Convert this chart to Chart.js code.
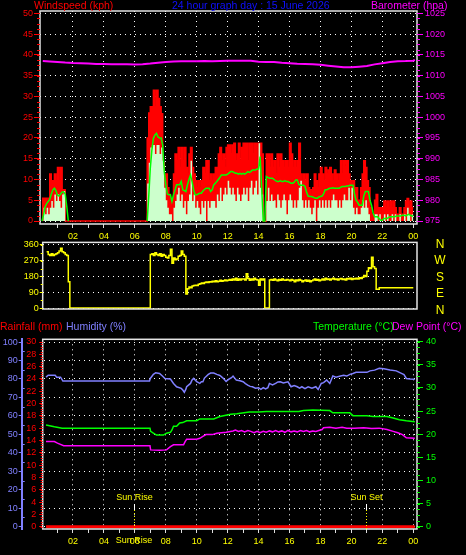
<!DOCTYPE html>
<html><head><meta charset="utf-8">
<script src="https://cdn.jsdelivr.net/npm/chart.js@4.4.1/dist/chart.umd.min.js"></script>
<style>
html,body{margin:0;padding:0;background:#000;width:466px;height:555px;overflow:hidden}
canvas{position:absolute;left:0}
</style></head><body>
<canvas id="c1" width="466" height="245" style="top:0px"></canvas>
<canvas id="c2" width="466" height="80" style="top:236px"></canvas>
<canvas id="c3" width="466" height="237" style="top:318px"></canvas>
<script>
// ---------------- DATA ----------------
const hourTicks = [1,2,3,4,5,6,7,8,9,10,11,12,13,14,15,16,17,18,19,20,21,22,23,24];
const windTicks = [0,5,10,15,20,25,30,35,40,45,50];
const baroTicks = [975,980,985,990,995,1000,1005,1010,1015,1020,1025];
const dirTicks = [0,90,180,270,360];
const dirLetters = ['N','W','S','E','N'];
const humTicks = [0,10,20,30,40,50,60,70,80,90,100];
const rainTicks = [0,2,4,6,8,10,12,14,16,18,20,22,24,26,28,30];
const tempTicks = [0,5,10,15,20,25,30,35,40];

// wind samples: one value every 0.1 h starting 00:00 (one row per hour, last value = 24:00)
const windGust = [
5.5,5.5,5.5,3.2,5.5,11.3,9.7,9.7,11.3,9.7,
12.9,9.7,12.9,7.5,7.5,0,0,0,0,0,
0,0,0,0,0,0,0,0,0,0,
0,0,0,0,0,0,0,0,0,0,
0,0,0,0,0,0,0,0,0,0,
0,0,0,0,0,0,0,0,0,0,
0,0,0,0,0,0,0,0,20,26,
27.5,27.5,31.5,27.5,31.5,29.5,27.5,25.8,14,11.3,
11.3,8,6.4,4.8,3.2,11.3,16.1,14.5,17.7,12.9,
17.7,14.5,17.7,12.9,11.3,16.1,17.7,12.9,11.3,9.7,
8,9.7,8,9.7,12.9,11.3,14.5,14.5,9.7,11.3,
9.7,11.3,12.9,12.9,16.1,17.7,14.5,16.1,12.9,17.7,
18.3,18.3,16.1,18.3,18.7,14.5,16.1,18.7,14.5,17.7,
18.7,18.7,18.7,14.5,18.7,18.7,16.1,18.7,18.7,14.5,
18.7,18.7,16.1,0,0,16.1,16.1,12.9,16.1,12.9,
14.5,11.3,16.1,12.9,16.1,14.5,12.9,14.5,14.5,12.9,
18.7,16.1,12.9,14.5,12.9,14.5,18.7,11.3,9.7,11.3,
9.7,11.3,8,7.5,6.4,8,11.3,9.7,8,11.3,
12.9,11.3,9.7,12.9,11.3,12.3,12.9,11.3,9.7,12.3,
11.3,9.7,11.3,14.5,11.3,14.5,12.9,14.5,11.3,9.7,
8,9.7,6.4,8,5,5,8,11.3,14.5,12.9,
9.7,8,3.2,1.6,1.6,5,6.4,3.2,3.2,1.6,
3.2,4.8,3.2,4.8,3.2,4.8,3.2,4.8,3.2,1.6,
1.6,3.2,1.6,1.6,3.2,4.8,5.4,3.2,4.8,3.2,
3.2];
const windAvg = [
0,3.2,1.6,3.2,1.6,3.2,4.8,3.2,6.4,4.8,
6.4,4.8,3.2,6.4,7.2,0,0,0,0,0,
0,0,0,0,0,0,0,0,0,0,
0,0,0,0,0,0,0,0,0,0,
0,0,0,0,0,0,0,0,0,0,
0,0,0,0,0,0,0,0,0,0,
0,0,0,0,0,0,0,0,9,14,
17.7,18.3,18.3,16.1,18.3,18.3,16.1,17.7,14.5,8,
5,3.2,1.6,1.6,0,3.2,4.8,6.4,8,4.8,
6.4,3.2,4.8,1.6,4.8,6.4,14.5,4.8,6.4,3.2,
4.8,3.2,1.6,4.8,3.2,4.8,0,4.8,3.2,4.8,
4.8,4.8,3.2,6.4,4.8,8,4.8,6.4,8,6.4,
9.7,8,6.4,8,6.4,4.8,8,6.4,4.8,6.4,
8,6.4,8,4.8,8,9.7,6.4,8,9.7,6.4,
18.7,8,6.4,0,0,4.8,8,4.8,6.4,4.8,
5,3.2,6.4,5,3.2,5,6.4,5,1.6,5,
6.4,5,3.2,5,3.2,5,8,9.7,5,3.2,
5,3.2,5,3.2,1.6,3.2,5,0,3.2,5,
3.2,5,3.2,5,3.2,5,3.2,5,6.4,5,
5,3.2,5,3.2,5,6.4,5,5,8,5,
8,3.2,1.6,3.2,1.6,1.6,3.2,5,3.2,5,
3.2,1.6,0,0,0,1.6,1.6,0,1.6,0,
0,1.6,0,1.6,0,0,1.6,0,1.6,0,
0,1.6,0,0,1.6,0,3.2,1.6,0,1.6,
1.6];
const windTrend = [
0,1.5,3.4,4.2,4.7,5.2,6.5,7.5,7.9,7.3,
6.2,6,6.5,7,7,6.5,3.5,0,null,null,
null,null,null,null,null,null,null,null,null,null,
null,null,null,null,null,null,null,null,null,null,
null,null,null,null,null,null,null,null,null,null,
null,null,null,null,null,null,null,null,null,null,
null,null,null,null,null,null,null,null,0,6,
12.7,17,19.9,20.7,21.1,20.2,20,20,18.3,12,
8.7,6.5,6.3,6.3,4.7,6.3,7.5,8.7,8.7,8.7,
9.5,7.5,7.3,7.1,8.7,10,11.1,9.5,7.5,6.3,
6.3,6.5,6.7,6.7,7.2,7.6,7.9,7.9,7.9,7.1,
7.5,8.7,9.1,9.5,10,10.5,11.1,11.1,11.1,11.1,
11.3,11.6,11.9,11.9,11.7,11.5,11.5,11.3,11.5,11.3,
11.5,11.3,11.5,11.9,11.7,11.9,12.3,12.3,12.3,12.5,
12.5,15.5,8,0,0,10.7,10.5,10.3,10.3,10.3,
10,9.7,9.5,9.5,9.7,9.5,9.5,9.7,9.5,9.5,
9.3,9.1,9.1,9.3,9.9,9.9,8.8,8.6,8.6,8.6,
8.3,7,6,5.9,5.9,5.8,5.6,5.5,5.5,5.8,
5.9,6,6.5,7.5,7.5,7.7,7.9,7.9,8,7.9,
7.9,7.9,7.9,8.1,8.3,8.3,8.3,8.4,8.4,8.6,
8.6,8.6,6.5,5,4.5,3.8,3.8,3.8,6,7.1,
7.1,7.1,5,3.8,2,1,1,1,0.5,0.2,
0.2,0.6,0.6,0.6,0.8,1,1,1,1,1.2,
1.2,1.2,1.2,1.4,1.4,1.2,1.4,1.6,1.4,1.2,
1.2];
const windDir = [
null,null,null,320,305,300,310,300,305,310,
315,325,340,320,315,305,300,150,0,0,
0,0,0,0,0,0,0,0,0,0,
0,0,0,0,0,0,0,0,0,0,
0,0,0,0,0,0,0,0,0,0,
0,0,0,0,0,0,0,0,0,0,
0,0,0,0,0,0,0,0,0,0,
305,310,300,315,305,300,310,295,305,300,
290,285,300,335,255,285,275,280,295,300,
325,305,295,80,110,120,115,125,128,130,
128,135,138,142,140,145,148,145,150,148,
152,150,155,150,153,158,152,155,160,155,
158,162,158,165,160,170,158,165,160,165,
165,160,195,168,158,165,160,170,162,160,
130,165,160,165,0,0,0,160,162,158,
165,160,155,162,158,165,160,158,163,160,
155,162,158,150,160,155,162,158,150,155,
160,152,158,150,155,160,165,158,162,155,
160,165,160,170,162,165,160,165,170,162,
165,160,165,168,162,165,160,168,165,170,
162,168,165,170,165,172,168,175,185,180,
210,230,225,290,235,225,107,107,116,116,
116,116,116,116,116,116,116,116,116,116,
116,116,116,116,116,116,116,116,116,116,
116];
// [hour, value] readings
const barometer = [[0.05,1013.5],[0.5,1013.4],[1,1013.3],[1.5,1013.15],[2,1013.05],[2.5,1013],[3,1012.9],[3.5,1012.8],[4,1012.8],[4.5,1012.75],[5,1012.75],[5.5,1012.75],[6,1012.65],[6.5,1012.75],[7,1012.9],[7.5,1013.1],[8,1013.3],[8.5,1013.4],[9,1013.45],[10,1013.45],[10.5,1013.5],[11,1013.45],[11.5,1013.5],[12,1013.55],[12.5,1013.6],[13,1013.6],[13.5,1013.55],[14,1013.35],[14.5,1013.3],[15,1013.25],[15.5,1013.1],[16,1013],[16.5,1012.85],[17,1012.8],[17.5,1012.75],[18,1012.6],[18.5,1012.4],[19,1012.2],[19.5,1012],[20,1012],[20.5,1012.15],[21,1012.3],[21.5,1012.7],[22,1013],[22.5,1013.25],[23,1013.45],[23.5,1013.5],[24,1013.6],[24.1,1013.8]];
const humidity = [[0.26,81],[0.4,82],[0.85,82],[0.95,81],[1.2,81],[1.35,78.9],[6.95,78.9],[7.0,80.3],[7.2,82.5],[7.35,83.4],[7.6,83],[7.8,81.5],[7.95,80.3],[8.3,80],[8.5,77.6],[8.7,75.8],[9.0,74.9],[9.1,74],[9.2,72.8],[9.3,74.5],[9.35,75.8],[9.6,77.6],[9.7,79.5],[9.8,80.3],[9.9,79.4],[10.0,78.5],[10.2,77.6],[10.3,78.5],[10.4,78.5],[10.5,80.5],[10.75,82.5],[10.9,83.2],[11.1,83.2],[11.3,82.5],[11.5,81.9],[11.7,80.5],[11.9,78.7],[12.1,80],[12.25,80.7],[12.35,81.6],[12.56,79.4],[12.8,79],[13.0,78.5],[13.15,77.5],[13.3,76.7],[13.45,76],[13.6,75.8],[13.8,75],[14.0,75.3],[14.15,74.4],[14.3,75.3],[14.45,74.6],[14.6,75.3],[14.7,77.6],[14.9,76.8],[15.1,77.6],[15.25,78.4],[15.4,78.5],[15.6,77.8],[15.9,78.5],[16.1,75.8],[16.3,76.5],[16.5,75.8],[16.65,75],[16.8,75.8],[17.0,74.8],[17.2,75.8],[17.45,75],[17.7,75.8],[17.85,74.3],[18.05,77.6],[18.2,78],[18.4,79.4],[18.6,77.6],[18.8,81.6],[19.0,81],[19.3,81.6],[19.5,82],[19.7,81.6],[19.9,82.5],[20.1,83],[20.3,83.6],[20.6,83.6],[21.0,83.6],[21.2,84.4],[21.5,84.8],[21.8,85.8],[22.1,85.5],[22.5,84.9],[22.9,84.4],[23.2,83.2],[23.4,82.4],[23.55,80.3],[23.8,80],[24.1,79.9]];
const temperature = [[0.26,22.0],[0.8,21.6],[1.3,21.3],[6.98,21.3],[7.02,20.6],[7.2,20.2],[7.4,19.8],[7.85,19.8],[8.05,20.2],[8.3,20.4],[8.4,20.9],[8.5,21.7],[8.7,21.7],[8.9,22.4],[9.1,22.5],[9.35,22.9],[10.0,22.9],[10.2,23.3],[11.1,23.3],[11.5,23.8],[12.2,24.3],[12.6,24.4],[13.4,24.8],[14.0,24.8],[14.5,24.9],[15.5,24.9],[16.6,24.9],[16.9,25.1],[17.5,25.2],[18.6,25.1],[18.8,24.6],[19.9,24.6],[20.1,24.0],[21.0,24.0],[21.4,23.8],[22.3,23.8],[22.7,23.5],[23.1,23.1],[23.55,22.9],[24.1,22.7]];
const dewPoint = [[0.26,18.4],[0.8,18.4],[1.0,18.05],[1.4,17.5],[6.98,17.5],[7.02,16.6],[7.6,16.5],[8.05,16.6],[8.3,17.3],[8.5,17.7],[9.15,17.7],[9.25,18.4],[9.35,18.9],[10.0,18.9],[10.2,19.1],[10.4,19.5],[10.6,19.9],[11.0,19.9],[11.3,20.2],[11.9,20.4],[12.35,20.7],[12.5,20.9],[12.7,20.6],[12.9,20.8],[13.1,20.5],[13.3,20.8],[13.5,20.6],[13.7,20.3],[13.9,20.6],[14.1,20.3],[14.3,20.6],[14.5,20.4],[14.7,20.7],[14.9,20.5],[15.1,20.8],[15.3,20.5],[15.5,20.7],[15.7,20.4],[15.9,20.8],[16.1,20.5],[16.3,20.7],[16.5,20.5],[16.7,20.8],[16.9,20.6],[17.1,20.8],[17.3,20.5],[17.5,20.7],[17.7,20.6],[17.9,20.8],[18.1,21.0],[18.2,21.4],[18.6,21.5],[19.0,21.3],[19.4,21.5],[19.7,21.3],[20.2,21.3],[20.8,21.4],[21.3,21.2],[21.8,21.3],[22.3,21.0],[22.7,20.6],[23.0,20.3],[23.3,19.9],[23.55,19.2],[24.1,19.1]];
const rainfall = [[0.26,0],[24.1,0]];
const sunRise = 5.95, sunSet = 20.95;

// ---------------- HELPERS ----------------
const FONT = "'Liberation Sans', Arial, sans-serif";
const RED='#ff0000', MAG='#ff00ff', YEL='#ffff00', GRN='#00ff00', HUM='#8080ff', PALE='#ccffcc', FRAME='#e4e4e4';
const seriesFromRows = arr => arr.map((v,i) => ({x: i/10, y: v}));
const seriesFromPairs = arr => arr.map(p => ({x: p[0], y: p[1]}));
const setTicks = vals => s => { s.ticks = vals.map(v => ({value: v})); };
const fixW = w => s => { s.width = w; };
const fixH = h => s => { s.height = h; };
const hourLabel = v => (v % 2 === 0) ? String(v % 24).padStart(2,'0') : '';
const tickFont = {family: FONT, size: 9};

function xAxis(min, max, h, showLabels, grid) {
  return {
    type:'linear', min, max, display: true,
    afterBuildTicks: setTicks(hourTicks), afterFit: fixH(h),
    grid: { display: true, drawOnChartArea: grid, color: c => (c.tick && c.tick.value % 2 === 0) ? '#ffffff' : 'rgba(0,0,0,0)',
            tickColor: '#dddddd', tickLength: 4, lineWidth: 1 },
    border: { display: false, dash: [1,4] },
    ticks: { color: YEL, font: tickFont, padding: 3, maxRotation: 0, autoSkip: false,
             callback: v => showLabels ? hourLabel(v) : '' }
  };
}
const framePlugin = { id:'frame', afterDatasetsDraw(chart){ const {ctx, chartArea:a} = chart; ctx.save(); ctx.strokeStyle = FRAME; ctx.lineWidth = 1.5; ctx.strokeRect(a.left, a.top, a.right-a.left, a.bottom-a.top); ctx.restore(); } };
function minorPlugin(specs){ return { id:'minor', afterDraw(chart){ const ctx = chart.ctx; ctx.save(); ctx.lineWidth = 1;
  specs.forEach(s => { const sc = chart.scales[s.scale]; ctx.strokeStyle = s.color;
    for (let v = s.from; v <= s.to + 1e-6; v += s.step) { const y = Math.round(sc.getPixelForValue(v)) + 0.5;
      ctx.beginPath(); ctx.moveTo(s.x, y); ctx.lineTo(s.x + s.len, y); ctx.stroke(); } });
  ctx.restore(); } }; }
function textPlugin(items, hook){ return { id:'texts', [hook || 'afterDraw'](chart){ const ctx = chart.ctx; ctx.save(); ctx.textBaseline = 'middle';
  items.forEach(t => { ctx.font = t.font; ctx.fillStyle = t.color; ctx.textAlign = t.align || 'left'; ctx.fillText(t.text, t.x, t.y); });
  ctx.restore(); } }; }
const baseOpts = { responsive:false, animation:false, devicePixelRatio:1, events:[],
  plugins:{ legend:{display:false}, tooltip:{enabled:false} } };
const TITLE = "10.5px " + FONT;

// ---------------- PANEL 1 : wind + barometer ----------------
new Chart(document.getElementById('c1'), {
  type:'line',
  data:{ datasets:[
    { data: seriesFromRows(windTrend), borderColor: GRN, borderWidth: 1.5, pointRadius: 0, fill: false, yAxisID:'y' },
    { data: seriesFromRows(windAvg), borderColor: PALE, backgroundColor: PALE, borderWidth: 0, pointRadius: 0, stepped:'before', fill:'origin', yAxisID:'y' },
    { data: seriesFromRows(windGust), borderColor: RED, backgroundColor: RED, borderWidth: 1.5, pointRadius: 0, stepped:'before', fill:'origin', yAxisID:'y' },
    { data: seriesFromPairs(barometer), borderColor: MAG, borderWidth: 2, pointRadius: 0, fill: false, yAxisID:'y2' }
  ]},
  options: Object.assign({}, baseOpts, {
    layout:{ padding:{ top: 11, left: 0, right: 0, bottom: 0 } },
    scales:{
      x: xAxis(-0.13, 24.24, 21, true, true),
      y: { position:'left', min:-0.72, max:50.55, afterBuildTicks: setTicks(windTicks), afterFit: fixW(40),
           grid:{ color:'#ffffff', tickColor: RED, tickLength: 6, lineWidth: 1 }, border:{ display:false, dash:[1,4] },
           ticks:{ color: RED, font: tickFont, padding: 1, autoSkip:false, callback: v => String(v) } },
      y2: { position:'right', min:974.28, max:1025.55, afterBuildTicks: setTicks(baroTicks), afterFit: fixW(49),
           grid:{ drawOnChartArea:false, tickColor: MAG, tickLength: 6 }, border:{ display:false },
           ticks:{ color: MAG, font: tickFont, padding: 2, autoSkip:false, callback: v => String(v) } }
    }
  }),
  plugins:[ framePlugin,
    minorPlugin([{scale:'y', from:0, to:50, step:1.25, x:40, len:-3, color:RED},{scale:'y2', from:975, to:1025, step:1.25, x:417, len:3, color:MAG}]),
    textPlugin([
      {text:'Windspeed (kph)', x:34, y:6, color:RED, font:TITLE},
      {text:'24 hour graph day : 15 June 2026', x:172, y:6, color:'#1010ff', font:TITLE},
      {text:'Barometer (hpa)', x:371, y:6, color:MAG, font:TITLE}
    ]) ]
});

// ---------------- PANEL 2 : wind direction ----------------
new Chart(document.getElementById('c2'), {
  type:'line',
  data:{ datasets:[
    { data: seriesFromRows(windDir), borderColor: YEL, borderWidth: 1.5, pointRadius: 0, stepped:'before', fill:false }
  ]},
  options: Object.assign({}, baseOpts, {
    layout:{ padding:{ top: 5.5, left: 0, right: 49, bottom: 7 } },
    scales:{
      x: { type:'linear', min:0.045, max:24.24, display:false },
      y: { position:'left', min:-5.6, max:374, afterBuildTicks: setTicks(dirTicks), afterFit: fixW(42.7),
           grid:{ color:'#ffffff', tickColor: YEL, tickLength: 3, lineWidth: 1 }, border:{ display:false, dash:[1,4] },
           ticks:{ color: YEL, font: tickFont, padding: 1, autoSkip:false, callback: v => String(v) } }
    }
  }),
  plugins:[ framePlugin,
    minorPlugin([{scale:'y', from:0, to:360, step:45, x:42.7, len:-2, color:YEL}]),
    textPlugin(dirLetters.map((t,i) => ({text:t, x:440, y:8.3 + i*16.5, color:YEL, font:"12px " + FONT, align:'center'}))) ]
});

// ---------------- PANEL 3 : rain / humidity / temperature / dew point ----------------
new Chart(document.getElementById('c3'), {
  type:'line',
  data:{ datasets:[
    { data: seriesFromPairs(rainfall), borderColor: RED, borderWidth: 3, pointRadius: 0, fill:false, yAxisID:'rain' },
    { data: seriesFromPairs(dewPoint), borderColor: MAG, borderWidth: 1.5, pointRadius: 0, fill:false, yAxisID:'temp' },
    { data: seriesFromPairs(temperature), borderColor: GRN, borderWidth: 1.5, pointRadius: 0, fill:false, yAxisID:'temp' },
    { data: seriesFromPairs(humidity), borderColor: HUM, borderWidth: 1.5, pointRadius: 0, fill:false, yAxisID:'hum' }
  ]},
  options: Object.assign({}, baseOpts, {
    layout:{ padding:{ top: 21.3, left: 0, right: 0, bottom: 0 } },
    scales:{
      x: xAxis(0.045, 24.24, 26, true, true),
      hum: { position:'left', weight: 1, min:-1.25, max:101.5, afterBuildTicks: setTicks(humTicks), afterFit: fixW(21.7),
           grid:{ color:'#ffffff', tickColor: HUM, tickLength: 3, lineWidth: 1 }, border:{ display:true, color: HUM, width: 2, dash:[1,4] },
           ticks:{ color: HUM, font: tickFont, padding: 1, autoSkip:false, callback: v => String(v) } },
      rain: { position:'left', weight: 0, min:-0.37, max:30.44, afterBuildTicks: setTicks(rainTicks), afterFit: fixW(21),
           grid:{ drawOnChartArea:false, tickColor: RED, tickLength: 3.5 }, border:{ display:false },
           ticks:{ color: RED, font: tickFont, padding: 3, autoSkip:false, callback: v => String(v) } },
      temp: { position:'right', min:-0.5, max:40.5, afterBuildTicks: setTicks(tempTicks), afterFit: fixW(49),
           grid:{ drawOnChartArea:false, tickColor: GRN, tickLength: 6 }, border:{ display:false },
           ticks:{ color: GRN, font: tickFont, padding: 3, autoSkip:false, callback: v => String(v) } }
    }
  }),
  plugins:[ framePlugin,
    minorPlugin([{scale:'rain', from:0, to:30, step:0.4, x:42.7, len:-2, color:RED},
                 {scale:'temp', from:0, to:40, step:1.25, x:417, len:3, color:GRN},
                 {scale:'hum', from:5, to:95, step:10, x:22.7, len:2, color:HUM}]),
    { id:'sunBelow', beforeDraw(chart){ const ctx = chart.ctx, xs = chart.scales.x; ctx.save(); ctx.font = "9px " + FONT; ctx.fillStyle = YEL; ctx.textAlign='center'; ctx.textBaseline='middle';
        ctx.fillText('Sun Rise', xs.getPixelForValue(sunRise), 222.7); ctx.restore(); } },
    { id:'sun', afterDatasetsDraw(chart){ const ctx = chart.ctx, xs = chart.scales.x, a = chart.chartArea; ctx.save();
        [[sunRise,'Sun Rise'],[sunSet,'Sun Set']].forEach(([h,label]) => { const x = Math.round(xs.getPixelForValue(h)) + 0.5;
          ctx.strokeStyle = '#ffffff'; ctx.lineWidth = 1; ctx.setLineDash([]); ctx.beginPath(); ctx.moveTo(x, a.bottom - 25); ctx.lineTo(x, a.bottom - 19); ctx.stroke();
          ctx.strokeStyle = YEL; ctx.setLineDash([1,2]); ctx.beginPath(); ctx.moveTo(x, a.bottom - 19); ctx.lineTo(x, a.bottom); ctx.stroke();
          ctx.setLineDash([]); ctx.font = "9px " + FONT; ctx.fillStyle = YEL; ctx.textAlign='center'; ctx.textBaseline='middle'; ctx.fillText(label, x, a.bottom - 31.3); });
        ctx.restore(); } },
    textPlugin([
      {text:'Rainfall (mm)', x:0, y:9.3, color:RED, font:TITLE},
      {text:'Humidity (%)', x:66, y:9.3, color:HUM, font:TITLE},
      {text:'Temperature (°C)', x:313, y:9.3, color:GRN, font:TITLE},
      {text:'Dew Point (°C)', x:392, y:9.3, color:MAG, font:TITLE}
    ]) ]
});
</script>
</body></html>
